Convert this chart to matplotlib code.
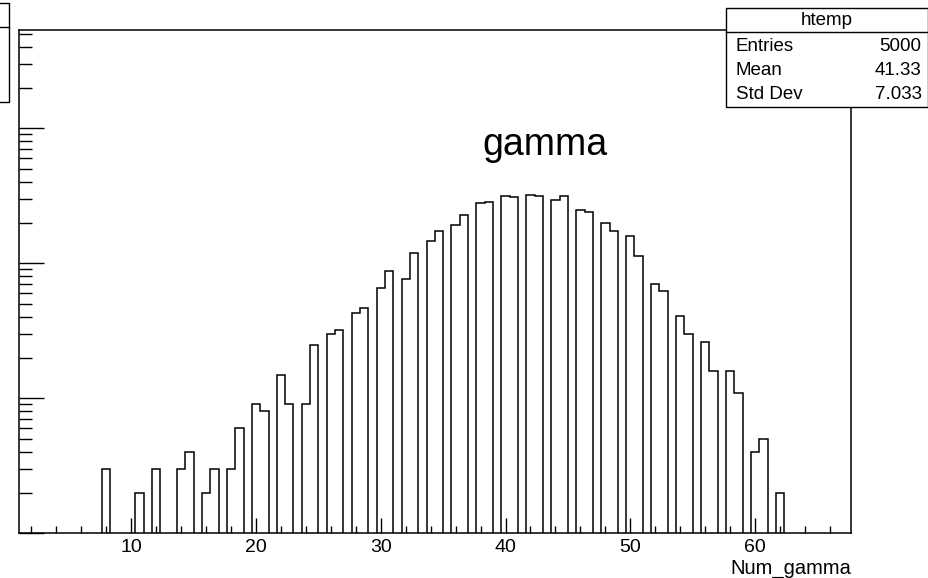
import numpy as np
import matplotlib
matplotlib.use("Agg")
import matplotlib.pyplot as plt
from matplotlib.patches import Rectangle
from matplotlib.lines import Line2D
from matplotlib.ticker import MultipleLocator, LogLocator, NullFormatter

plt.rcParams['font.family'] = ['Liberation Sans', 'DejaVu Sans']

# Num_gamma values and number of entries for each
num_gamma = [8, 11, 12, 14, 15, 16, 17, 18, 19, 20, 21, 22, 23, 24, 25, 26, 27,
             28, 29, 30, 31, 32, 33, 34, 35, 36, 37, 38, 39, 40, 41, 42, 43, 44,
             45, 46, 47, 48, 49, 50, 51, 52, 53, 54, 55, 56, 57, 58, 59, 60, 61, 62]
counts = [3, 2, 3, 3, 4, 2, 3, 3, 6, 9, 8, 15, 9, 9, 25, 30, 32,
          43, 47, 66, 87, 77, 120, 146, 174, 192, 228, 281, 286, 317, 308, 322, 317, 294,
          317, 248, 241, 198, 174, 159, 114, 70, 62, 41, 30, 26, 16, 16, 11, 4, 5, 2]

hist_name = "htemp"
stats_labels = ["Entries", "Mean", "Std Dev"]
stats_values = ["5000", "41.33", "7.033"]
x_ticks = [10, 20, 30, 40, 50, 60]

# binning of the automatic ROOT histogram (100 bins)
XMIN, XMAX, NBINS = 1.0, 67.6667, 100
YMIN, YMAX = 1.0, 5350.0


def draw():
    fig = plt.figure(figsize=(9.29, 5.78), dpi=100)
    W, H = 929.0, 578.0
    ax = fig.add_axes([19 / W, 1 - 533.3 / H, (850.7 - 19) / W, (533.3 - 30) / H])

    edges = np.linspace(XMIN, XMAX, NBINS + 1)
    ax.hist(num_gamma, bins=edges, weights=counts, histtype='step',
            color='black', linewidth=1.1, log=True)

    ax.set_xlim(XMIN, XMAX)
    ax.set_ylim(YMIN, YMAX)

    ax.set_xticks(x_ticks)
    ax.set_xticklabels([str(t) for t in x_ticks])
    ax.xaxis.set_minor_locator(MultipleLocator(2))
    ax.yaxis.set_major_locator(LogLocator(base=10))
    ax.yaxis.set_minor_locator(LogLocator(base=10, subs=np.arange(2, 10)))
    ax.yaxis.set_minor_formatter(NullFormatter())

    ax.tick_params(axis='x', which='major', direction='in', length=10.8, width=1.0,
                   labelsize=14, pad=4, top=False)
    ax.tick_params(axis='x', which='minor', direction='in', length=5, width=1.0, top=False)
    ax.tick_params(axis='y', which='major', direction='in', length=18, width=1.0,
                   labelleft=False, right=False)
    ax.tick_params(axis='y', which='minor', direction='in', length=9.4, width=1.0,
                   right=False)
    for sp in ax.spines.values():
        sp.set_linewidth(1.1)

    # x-axis title, right aligned with the axis end
    fig.text(851 / W, 1 - 569 / H, "Num_gamma", ha='right', va='center', fontsize=14.5)

    # histogram title
    fig.text(545 / W, 1 - 155 / H, "gamma", ha='center', va='baseline', fontsize=27)

    # stats box
    bx0, bx1 = 725.7 / W, 928 / W
    by0, by1 = 1 - 107.3 / H, 1 - 8.3 / H
    fig.patches.append(Rectangle((bx0, by0), bx1 - bx0, by1 - by0, transform=fig.transFigure,
                                 facecolor='white', edgecolor='black', linewidth=1.0, zorder=5))
    fig.add_artist(Line2D([bx0, bx1], [1 - 32.3 / H] * 2, transform=fig.transFigure,
                          color='black', linewidth=1.0, zorder=6))
    fig.text(826.7 / W, 1 - 20.7 / H, hist_name, ha='center', va='center',
             fontsize=13.5, zorder=7)
    for i, (lab, val) in enumerate(zip(stats_labels, stats_values)):
        y = 1 - (46.7 + 23.8 * i) / H
        fig.text(736 / W, y, lab, ha='left', va='center', fontsize=13.5, zorder=7)
        fig.text(921.7 / W, y, val, ha='right', va='center', fontsize=13.5, zorder=7)

    # partly visible box at the top left corner
    lx0, lx1 = -0.01, 9 / W
    ly0, ly1 = 1 - 101.7 / H, 1 - 2.7 / H
    fig.patches.append(Rectangle((lx0, ly0), lx1 - lx0, ly1 - ly0, transform=fig.transFigure,
                                 facecolor='white', edgecolor='black', linewidth=1.0, zorder=5))
    fig.add_artist(Line2D([lx0, lx1], [1 - 26.7 / H] * 2, transform=fig.transFigure,
                          color='black', linewidth=1.0, zorder=6))

    fig.savefig("out.png", dpi=100)


if __name__ == "__main__":
    draw()
